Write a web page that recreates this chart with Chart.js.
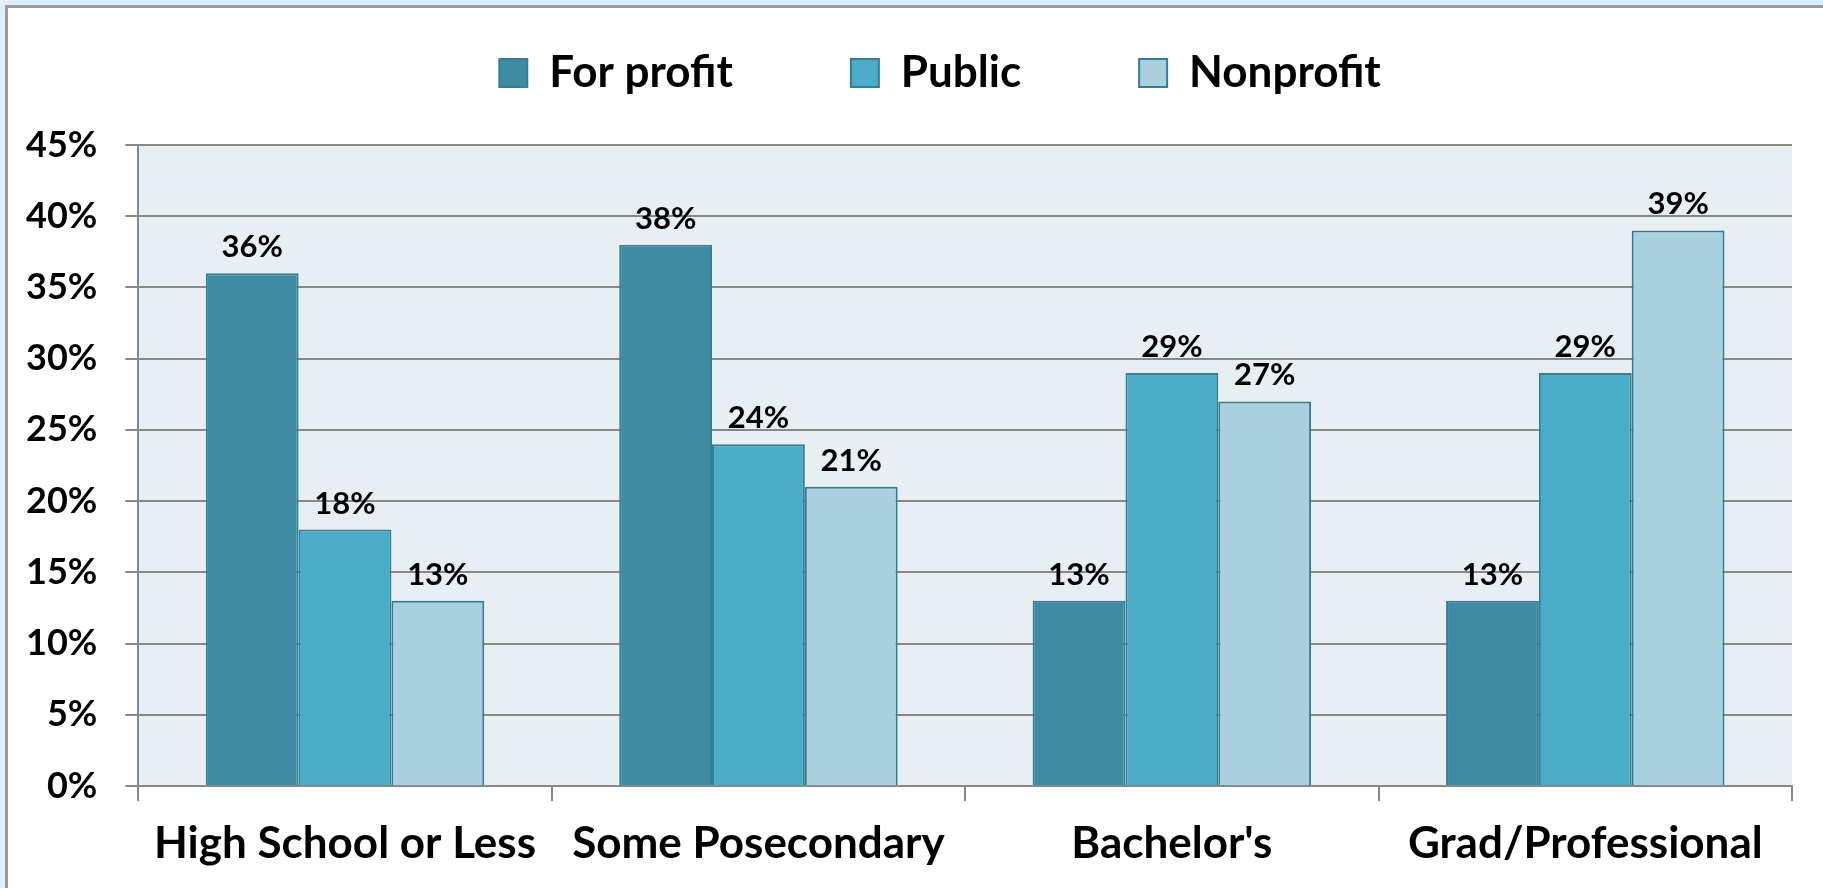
<!DOCTYPE html>
<html>
<head>
<meta charset="utf-8">
<script src="https://cdn.jsdelivr.net/npm/chart.js@4.4.1/dist/chart.umd.min.js"></script>
<style>
    html, body { margin: 0; padding: 0; background: #dfeef8; overflow: hidden; }
    #frame { position: absolute; left: 5px; top: 5px; width: 1840px; height: 900px; background: #fff; border: 3px solid #9a9a9a; }
    #wrap { position: absolute; left: 0; top: 0; width: 1823px; height: 888px; }
</style>
</head>
<body>
<div id="frame"></div>
<div id="wrap"><canvas id="degree_chart"></canvas></div>
<script>
const categories = ['High School or Less', 'Some Posecondary', "Bachelor's", 'Grad/Professional'];
const series_names = ['For profit', 'Public', 'Nonprofit'];
const for_profit = [36, 38, 13, 13];
const public_share = [18, 24, 29, 29];
const nonprofit = [13, 21, 27, 39];
const y_tick_values = [0, 5, 10, 15, 20, 25, 30, 35, 40, 45];

const font_family = 'Lato, Carlito, "Open Sans", sans-serif';


// PLOT BACKGROUND
const plot_bg = {
    id: 'plot_bg',
    beforeDraw(chart) {
        const {ctx, chartArea} = chart;
        ctx.save();
        ctx.fillStyle = '#e7eff3';
        ctx.fillRect(chartArea.left, chartArea.top, chartArea.right - chartArea.left, chartArea.bottom - chartArea.top);
        ctx.restore();
    }
};

// VALUE LABELS ABOVE BARS
const bar_value_labels = {
    id: 'bar_value_labels',
    afterDatasetsDraw(chart) {
        const ctx = chart.ctx;
        ctx.save();
        ctx.font = 'bold 31px ' + font_family;
        ctx.fillStyle = '#000';
        ctx.textAlign = 'center';
        ctx.textBaseline = 'alphabetic';
        chart.data.datasets.forEach((ds, i) => {
            chart.getDatasetMeta(i).data.forEach((bar, j) => {
                ctx.fillText(ds.data[j] + '%', bar.x, bar.y - 16);
            });
        });
        ctx.restore();
    }
};

// legend sits a bit right of the canvas centre in the original
const legend_shift = {
    id: 'legend_shift',
    afterLayout(chart) {
        chart.legend.left += 34;
        chart.legend.right += 34;
    }
};


function draw_chart() {

    const ctx = document.getElementById('degree_chart');

    const chart_data = {
        labels: categories,
        datasets: [{
            label: series_names[0],
            data: for_profit,
            backgroundColor: '#3c8ba2',
            borderColor: '#357f96',
            borderWidth: 2
        }, {
            label: series_names[1],
            data: public_share,
            backgroundColor: '#4aacc6',
            borderColor: '#2f7f97',
            borderWidth: 2
        }, {
            label: series_names[2],
            data: nonprofit,
            backgroundColor: '#aacfde',
            borderColor: '#2f7f97',
            borderWidth: 2
        }]
    };

    const config = {
        type: 'bar',
        data: chart_data,
        plugins: [plot_bg, bar_value_labels, legend_shift],
        options: {
            responsive: true,
            maintainAspectRatio: false,
            animation: false,
            categoryPercentage: 0.6735,
            barPercentage: 1.0,
            layout: {
                padding: {top: -67, left: 20, right: 31, bottom: 1}
            },
            plugins: {
                legend: {
                    position: 'top',
                    labels: {
                        boxWidth: 28,
                        boxHeight: 28,
                        padding: 118,
                        color: '#000',
                        font: {family: font_family, size: 44, weight: 'bold'}
                    }
                },
                // empty title, only keeps room between legend and plot
                title: {
                    display: true,
                    text: '',
                    weight: 500,
                    padding: {top: 0, bottom: 28},
                    font: {size: 10}
                },
                tooltip: {enabled: false}
            },
            scales: {
                x: {
                    grid: {
                        offset: true,
                        drawOnChartArea: false,
                        color: '#888',
                        lineWidth: 2,
                        tickLength: 15
                    },
                    border: {display: true, color: '#888', width: 2},
                    ticks: {
                        color: '#000',
                        padding: 21,
                        maxRotation: 0,
                        autoSkip: false,
                        font: {family: font_family, size: 44, weight: 'bold', lineHeight: 1}
                    }
                },
                y: {
                    min: y_tick_values[0],
                    max: y_tick_values[y_tick_values.length - 1],
                    afterBuildTicks: scale => {
                        scale.ticks = y_tick_values.map(v => ({value: v}));
                    },
                    afterFit: scale => {
                        scale.width = 118.3;
                    },
                    grid: {
                        color: '#888',
                        lineWidth: 2,
                        tickLength: 13
                    },
                    border: {display: true, color: '#888', width: 2},
                    ticks: {
                        color: '#000',
                        padding: 28,
                        callback: v => v + '%',
                        font: {family: font_family, size: 36, weight: 'bold'}
                    }
                }
            }
        }
    };

    new Chart(ctx, config);
}

document.fonts.load('bold 40px Lato').then(draw_chart, draw_chart);
</script>
</body>
</html>
